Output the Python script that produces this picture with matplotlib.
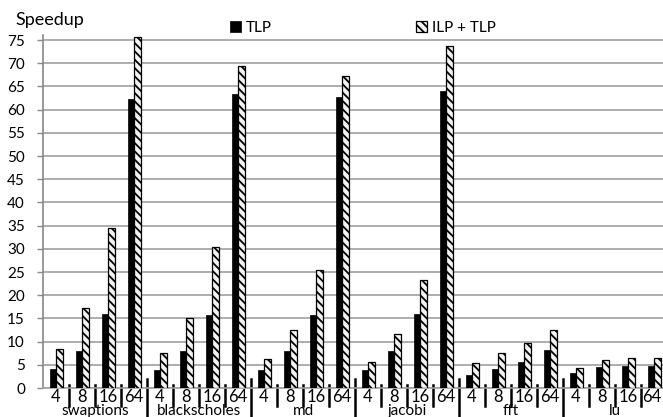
import matplotlib
matplotlib.use("Agg")
import matplotlib.pyplot as plt
import matplotlib.transforms as mtransforms
import numpy as np

plt.rcParams['font.family'] = ['Lato', 'DejaVu Sans']
plt.rcParams['hatch.linewidth'] = 1.3
plt.rcParams['hatch.color'] = '#333333'

benchmarks = ["swaptions", "blackscholes", "md", "jacobi", "fft", "lu"]
threads = ["4", "8", "16", "64"]

tlp = {
    "swaptions":    [4.0, 8.0, 16.0, 62.2],
    "blackscholes": [3.9, 8.0, 15.8, 63.3],
    "md":           [3.9, 8.0, 15.8, 62.7],
    "jacobi":       [3.8, 7.9, 15.9, 64.1],
    "fft":          [2.8, 4.1, 5.7, 8.2],
    "lu":           [3.2, 4.5, 4.7, 4.7],
}
ilp_tlp = {
    "swaptions":    [8.5, 17.2, 34.4, 75.7],
    "blackscholes": [7.5, 15.1, 30.3, 69.4],
    "md":           [6.3, 12.5, 25.4, 67.3],
    "jacobi":       [5.7, 11.6, 23.3, 73.8],
    "fft":          [5.3, 7.5, 9.7, 12.4],
    "lu":           [4.3, 6.0, 6.5, 6.5],
}
yticks = list(range(0, 80, 5))

fig = plt.figure(figsize=(6.63, 4.17), dpi=100)
ax = fig.add_axes([43/663, 0.0695, (667-43)/663, 0.915-0.0695])

tlp_vals = [v for b in benchmarks for v in tlp[b]]
ilp_vals = [v for b in benchmarks for v in ilp_tlp[b]]
x = np.arange(len(tlp_vals))
w = 0.25
ax.bar(x - w/2, tlp_vals, width=w, color='black', edgecolor='black',
       linewidth=0.5, label='TLP', zorder=3)
ax.bar(x + w/2, ilp_vals, width=w, color='#f2f2f2', edgecolor='black',
       hatch='\\\\\\\\', linewidth=0.9, label='ILP + TLP', zorder=3)

ax.set_xlim(-0.5, len(x) - 0.5)
ax.set_ylim(0, 76)
ax.set_yticks(yticks)
ax.set_yticklabels([str(t) for t in yticks], fontsize=11)
ax.tick_params(axis='y', length=4, color='#888888', pad=9, width=1)
ax.set_xticks([])
ax.yaxis.grid(True, color='#a0a0a0', linewidth=1.2, zorder=0)
ax.set_axisbelow(True)
for s in ['top', 'right']:
    ax.spines[s].set_visible(False)
ax.spines['left'].set_color('#888888')
ax.spines['left'].set_linewidth(1.2)
ax.spines['bottom'].set_color('#a0a0a0')
ax.spines['bottom'].set_linewidth(1.2)

trans = mtransforms.blended_transform_factory(ax.transData, ax.transAxes)
for i, b in enumerate(benchmarks):
    for j, t in enumerate(threads):
        k = i * 4 + j
        xo = -0.08 if (i == len(benchmarks) - 1 and j == 3) else 0
        ax.text(k + xo, -0.026, t, transform=trans, ha='center', va='center',
                fontsize=12, clip_on=False)
        if j > 0:
            ax.plot([k - 0.5, k - 0.5], [0.0085, -0.05], transform=trans,
                    color='black', linewidth=1.8, clip_on=False)
    ax.text(i * 4 + 1.5, -0.064, b, transform=trans, ha='center', va='center',
            fontsize=11, clip_on=False)
    if i > 0:
        ax.plot([i * 4 - 0.5, i * 4 - 0.5], [0.0255, -0.085], transform=trans,
                color='black', linewidth=1.8, clip_on=False)

fig.text(15/663, 1 - 20/417, "Speedup", fontsize=13, ha='left', va='center')

fig.legend(loc='center left', bbox_to_anchor=(230/663, 1 - 28/417), ncol=2,
           frameon=False, fontsize=11, handlelength=0.75, handleheight=0.75,
           handletextpad=0.3, columnspacing=9.4, borderaxespad=0, borderpad=0)

fig.savefig("out.png", dpi=100)
